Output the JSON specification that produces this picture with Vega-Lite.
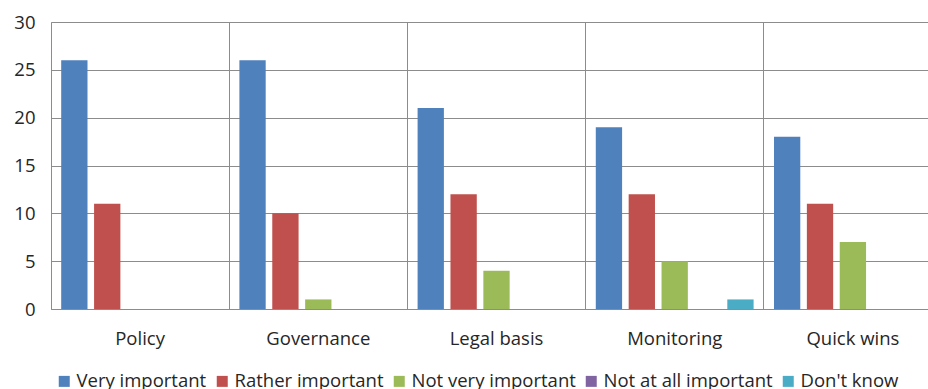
{
  "$schema": "https://vega.github.io/schema/vega-lite/v6.json",
  "width": 877,
  "height": 287,
  "autosize": {"type": "none"},
  "padding": {"left": 51, "top": 22, "right": 0, "bottom": 80},
  "background": "white",
  "config": {
    "font": "Open Sans",
    "view": {"stroke": null},
    "axis": {"labelFont": "Open Sans", "labelFontSize": 18.5, "labelColor": "#262626"}
  },
  "data": {
    "values": [
      {"area": "Policy", "rating": "Very important", "count": 26},
      {"area": "Policy", "rating": "Rather important", "count": 11},
      {"area": "Policy", "rating": "Not very important", "count": 0},
      {"area": "Policy", "rating": "Not at all important", "count": 0},
      {"area": "Policy", "rating": "Don't know", "count": 0},
      {"area": "Governance", "rating": "Very important", "count": 26},
      {"area": "Governance", "rating": "Rather important", "count": 10},
      {"area": "Governance", "rating": "Not very important", "count": 1},
      {"area": "Governance", "rating": "Not at all important", "count": 0},
      {"area": "Governance", "rating": "Don't know", "count": 0},
      {"area": "Legal basis", "rating": "Very important", "count": 21},
      {"area": "Legal basis", "rating": "Rather important", "count": 12},
      {"area": "Legal basis", "rating": "Not very important", "count": 4},
      {"area": "Legal basis", "rating": "Not at all important", "count": 0},
      {"area": "Legal basis", "rating": "Don't know", "count": 0},
      {"area": "Monitoring", "rating": "Very important", "count": 19},
      {"area": "Monitoring", "rating": "Rather important", "count": 12},
      {"area": "Monitoring", "rating": "Not very important", "count": 5},
      {"area": "Monitoring", "rating": "Not at all important", "count": 0},
      {"area": "Monitoring", "rating": "Don't know", "count": 1},
      {"area": "Quick wins", "rating": "Very important", "count": 18},
      {"area": "Quick wins", "rating": "Rather important", "count": 11},
      {"area": "Quick wins", "rating": "Not very important", "count": 7},
      {"area": "Quick wins", "rating": "Not at all important", "count": 0},
      {"area": "Quick wins", "rating": "Don't know", "count": 0}
    ]
  },
  "mark": {"type": "bar"},
  "encoding": {
    "x": {
      "field": "area",
      "type": "nominal",
      "sort": ["Policy", "Governance", "Legal basis", "Monitoring", "Quick wins"],
      "scale": {"range": [0, 891], "paddingInner": 0, "paddingOuter": 0},
      "axis": {
        "title": null,
        "labelAngle": 0,
        "bandPosition": 0,
        "ticks": false,
        "labelPadding": 20,
        "grid": true,
        "gridColor": "#8c8c8c",
        "gridWidth": 1,
        "domainColor": "#8c8c8c",
        "domainWidth": 1
      }
    },
    "xOffset": {
      "field": "rating",
      "type": "nominal",
      "sort": ["Very important", "Rather important", "Not very important", "Not at all important", "Don't know"],
      "scale": {"paddingInner": 0.2, "paddingOuter": 0.31}
    },
    "y": {
      "field": "count",
      "type": "quantitative",
      "scale": {"domain": [0, 30], "nice": false},
      "axis": {
        "title": null,
        "values": [0, 5, 10, 15, 20, 25, 30],
        "ticks": false,
        "labelPadding": 16,
        "grid": true,
        "gridColor": "#8c8c8c",
        "gridWidth": 1,
        "domainColor": "#8c8c8c",
        "domainWidth": 1
      }
    },
    "color": {
      "field": "rating",
      "type": "nominal",
      "scale": {
        "domain": ["Very important", "Rather important", "Not very important", "Not at all important", "Don't know"],
        "range": ["#4F81BD", "#C0504D", "#9BBB59", "#8064A2", "#4BACC6"]
      },
      "legend": {
        "title": null,
        "orient": "none",
        "direction": "horizontal",
        "columns": 5,
        "legendX": 4,
        "legendY": 350,
        "padding": 0,
        "symbolType": "square",
        "symbolSize": 121,
        "symbolStrokeWidth": 0,
        "labelFont": "Open Sans",
        "labelFontSize": 18.5,
        "labelColor": "#262626",
        "labelLimit": 300,
        "labelOffset": 3,
        "columnPadding": 6
      }
    }
  }
}
